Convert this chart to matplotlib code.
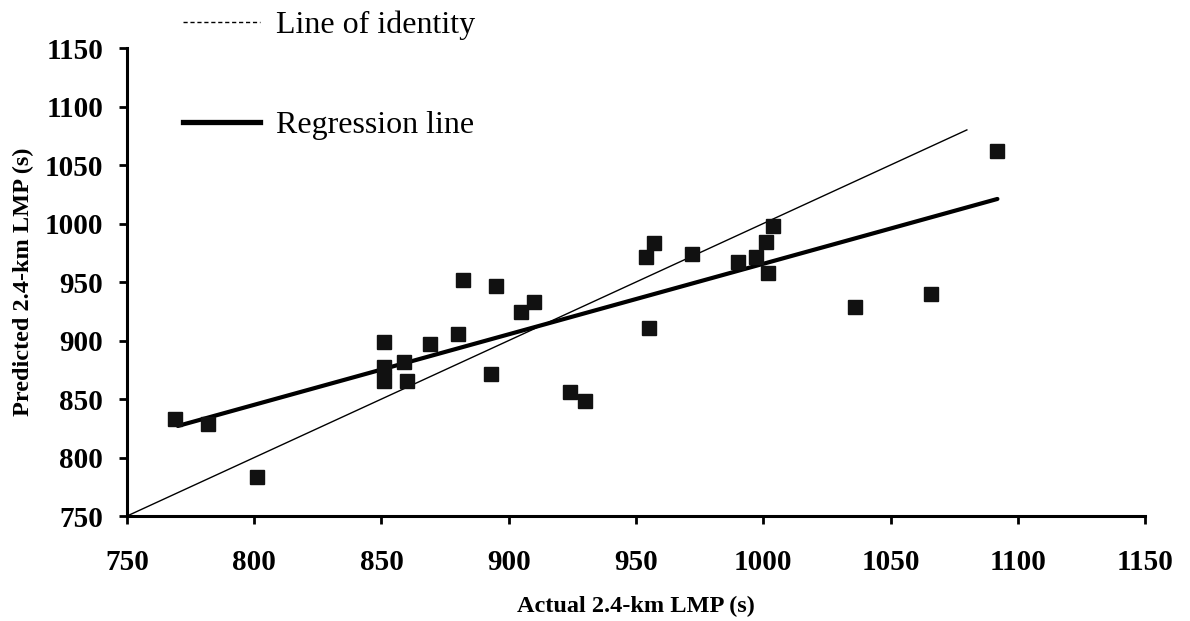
import numpy as np
import matplotlib
matplotlib.use("Agg")
import matplotlib.pyplot as plt
from matplotlib.lines import Line2D

plt.rcParams['font.family'] = ['Liberation Serif', 'DejaVu Serif']

# actual vs predicted 2.4-km LMP times (s)
actual = [769, 782, 801, 851, 851, 851, 859, 860, 869, 880, 882, 893, 895,
          905, 910, 924, 930, 955, 954, 957, 972, 990, 997, 1001, 1004, 1002,
          1036, 1066, 1092]
predicted = [833, 829, 783, 899, 877, 865, 882, 865, 897, 906, 952, 871, 947,
             924, 933, 856, 848, 911, 971, 983, 974, 967, 971, 984, 998, 958,
             929, 940, 1062]

identity_x = [750, 1080]
reg_x = [770, 1092]
reg_y = [827, 1021]

fig = plt.figure(figsize=(11.9, 6.21), dpi=100)
ax = fig.add_axes([0.1067, 0.169, 0.8555, 0.7537])

ax.plot(identity_x, identity_x, color='black', lw=1.0)
ax.plot(reg_x, reg_y, color='black', lw=3.0, solid_capstyle='round')
ax.plot(actual, predicted, 's', color='#111111', markersize=10.5)

ax.set_xlim(750, 1150)
ax.set_ylim(750, 1150)
ax.set_xticks(np.arange(750, 1151, 50))
ax.set_yticks(np.arange(750, 1151, 50))
for side in ['top', 'right']:
    ax.spines[side].set_visible(False)
for side in ['left', 'bottom']:
    ax.spines[side].set_linewidth(2.2)
ax.tick_params(direction='out', length=6, width=2, labelsize=21)
ax.tick_params(axis='x', pad=18)
ax.tick_params(axis='y', pad=11)
for lab in ax.get_xticklabels() + ax.get_yticklabels():
    lab.set_fontweight('bold')

ax.set_xlabel('Actual 2.4-km LMP (s)', fontsize=17.5, fontweight='bold', labelpad=14)
ax.set_ylabel('Predicted 2.4-km LMP (s)', fontsize=17.5, fontweight='bold', labelpad=8)

handles = [Line2D([], [], color='black', lw=1.0, ls=(0, (3, 2))),
           Line2D([], [], color='black', lw=3.8)]
fig.legend(handles, ['Line of identity', 'Regression line'],
           loc='upper left', bbox_to_anchor=(0.130, 1.029), frameon=False,
           fontsize=23, handlelength=2.4, handletextpad=0.5, labelspacing=2.2)

fig.savefig('out.png', dpi=100)
